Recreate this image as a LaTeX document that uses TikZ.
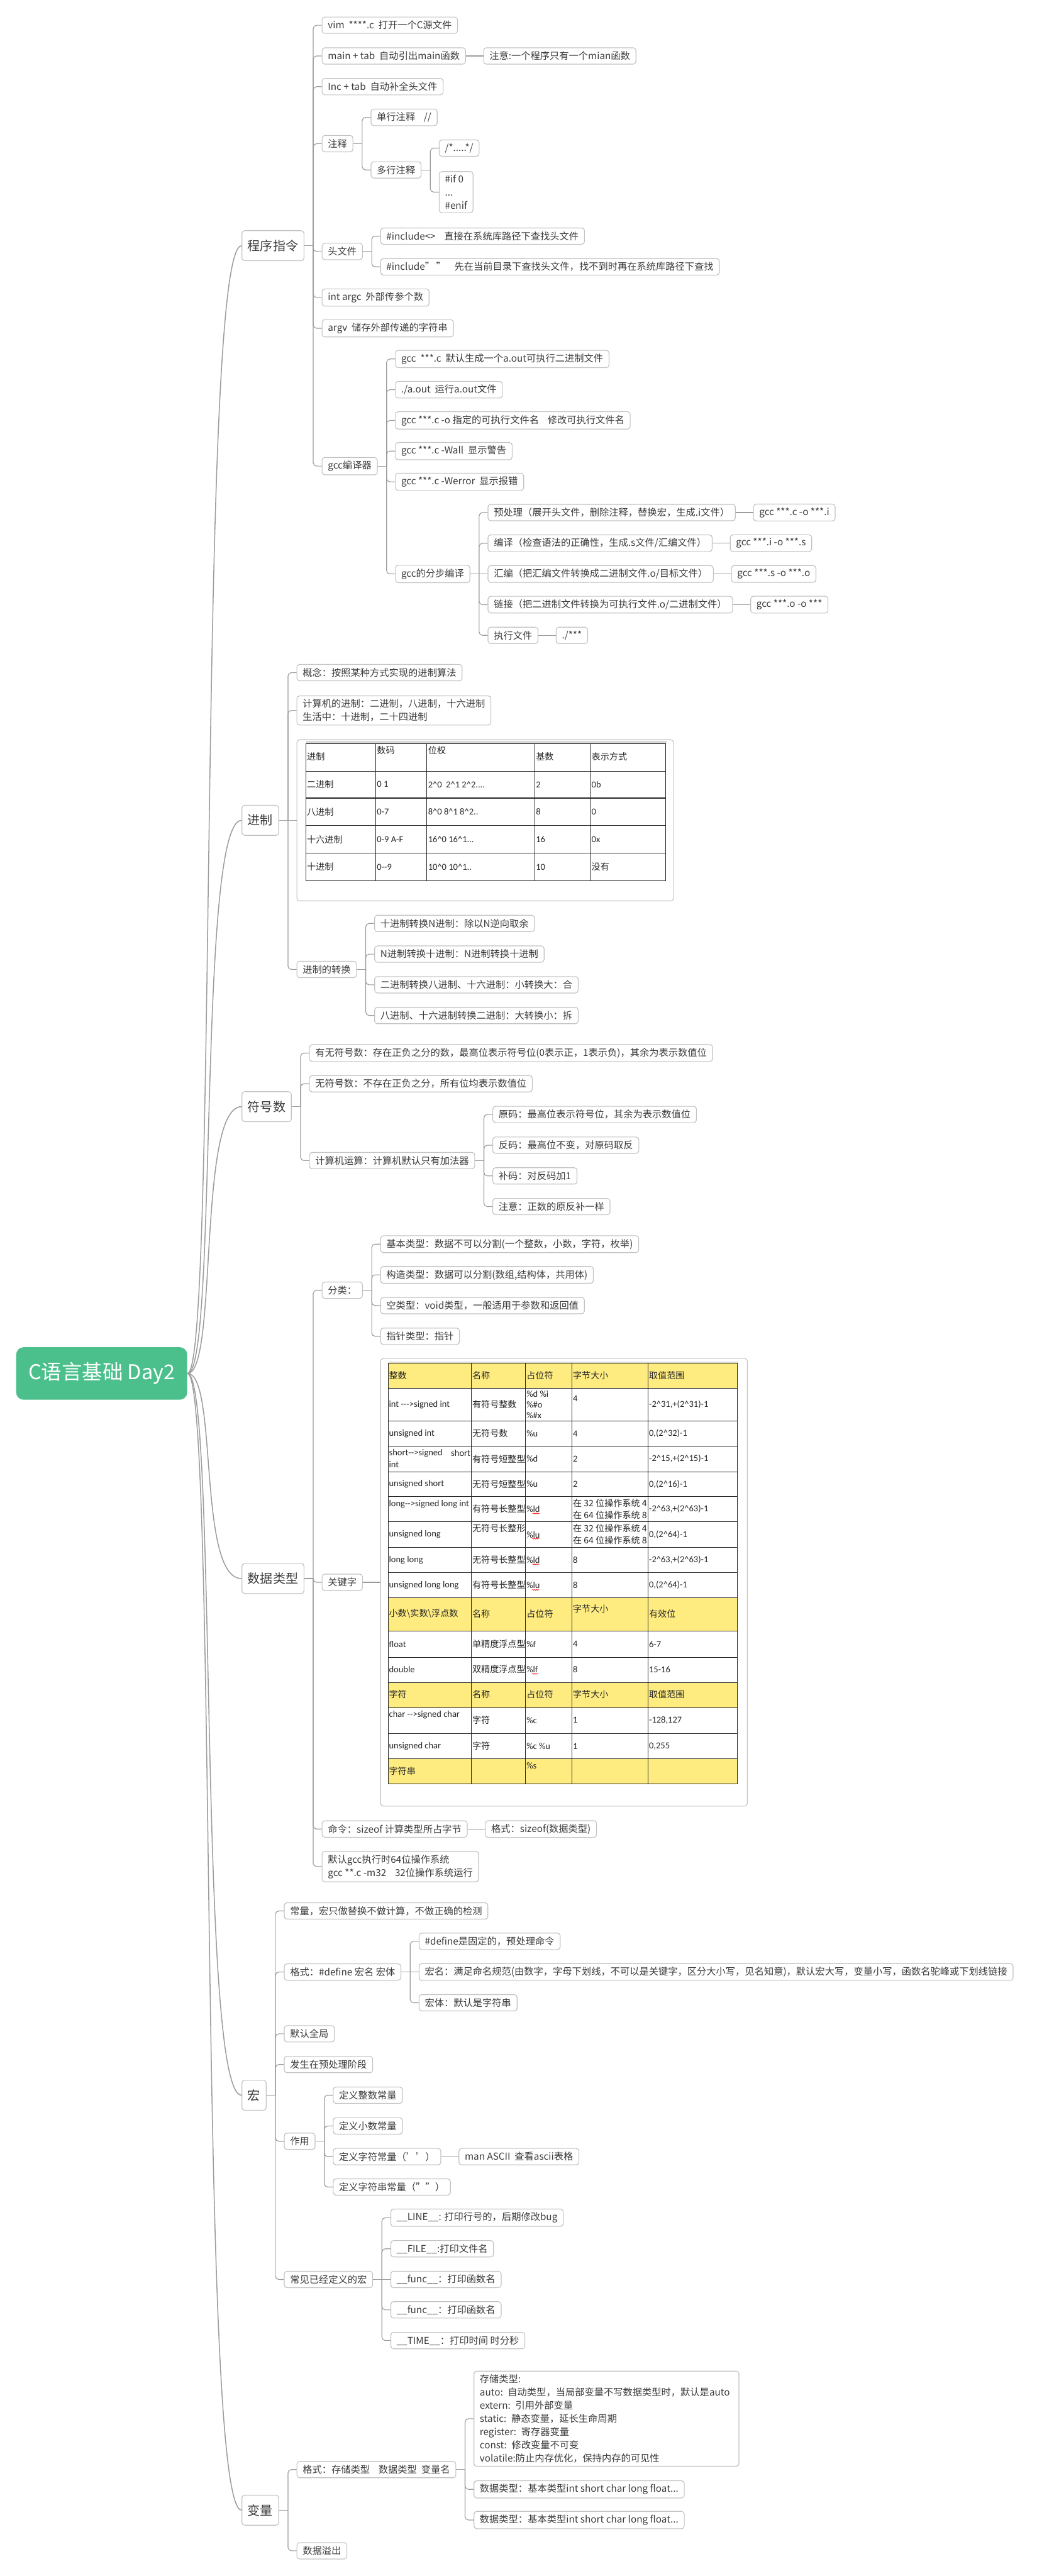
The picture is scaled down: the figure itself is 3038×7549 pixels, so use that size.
\documentclass[tikz,border=0pt]{standalone}
\usepackage{fontspec}
\setmainfont{Noto Sans CJK SC}
\newfontfamily\lat{Carlito}
\usetikzlibrary{calc,decorations.pathmorphing}
\definecolor{txt}{HTML}{3A3A3A}
\definecolor{bord}{HTML}{C2C2C2}
\definecolor{lnk}{HTML}{9C9C9C}
\definecolor{rootg}{HTML}{4CC08C}
\definecolor{ylw}{HTML}{FFEC80}
\newcommand\hy{\mbox{-}}
\newcommand\ca{\textasciicircum}
\newcommand\gap{\hspace{0.45em}}
\tikzset{
 box/.style={draw=bord, line width=0.6pt, rounded corners=0.08cm, fill=white, text=txt,
   font=\fontsize{8pt}{11pt}\selectfont, inner xsep=0.17cm, inner ysep=0.1cm, minimum height=0.48cm, align=left},
 mainbox/.style={box, font=\fontsize{10.5pt}{13pt}\selectfont, minimum height=0.88cm},
 rootbox/.style={fill=rootg, rounded corners=0.22cm, text=white, font=\fontsize{17pt}{20pt}\selectfont,
   minimum width=5.01cm, minimum height=1.54cm},
 conn/.style={draw=lnk, line width=0.6pt},
 rconn/.style={draw=lnk, line width=0.8pt},
 tline/.style={draw=black!85, line width=0.55pt},
 tc/.style={anchor=west, inner sep=0pt, text=black!85, font=\fontsize{7.4pt}{9pt}\selectfont},
 tcl/.style={tc, font=\fontsize{7.6pt}{9pt}\selectfont\lat},
 wavy/.style={red, line width=0.35pt, decorate, decoration={snake, amplitude=0.35pt, segment length=1.4pt}},
}
% child node placed 51px right of parent's east side, at absolute y (px)
\newcommand\kid[5][]{\path let \p1=(#3.east) in node[box,anchor=west,#1] (#2) at (\x1+0.51cm,-#4*0.01cm) {#5};}
% trunk connector with rounded corner
\newcommand\joinkid[2]{\draw[conn] (#1.east) -- ($(#1.east)+(26,0)$);
  \draw[conn, rounded corners=0.1cm] ($(#1.east)+(26,0)$) |- (#2.west);}
\newcommand\straight[2]{\draw[conn] (#1.east) -- (#2.west);}
\newcommand\rootlink[1]{\draw[rconn] (root.east) .. controls +(90,0) and +(-130,0) .. (#1.west);}

\begin{document}
\begin{tikzpicture}[x=0.01cm,y=-0.01cm]
\useasboundingbox (0,0) rectangle (3038,7549);
\fill[white] (0,0) rectangle (3038,7549);

% root and main topics
\node[rootbox] (root) at (298,4025) {C语言基础 Day2};
\node[mainbox, anchor=west] (m1) at (708,720) {程序指令};
\node[mainbox, anchor=west] (m2) at (708,2404) {进制};
\node[mainbox, anchor=west] (m3) at (708,3243) {符号数};
\node[mainbox, anchor=west] (m4) at (708,4626) {数据类型};
\node[mainbox, anchor=west] (m5) at (708,6140) {宏};
\node[mainbox, anchor=west] (m6) at (708,7356) {变量};
\rootlink{m1}\rootlink{m2}\rootlink{m3}\rootlink{m4}\rootlink{m5}\rootlink{m6}

% ---------------- 程序指令
\kid{a1}{m1}{74}{vim\gap ****.c\gap 打开一个C源文件}
\kid{a2}{m1}{164}{main + tab\gap 自动引出main函数}
\kid{a2n}{a2}{164}{注意:一个程序只有一个mian函数}
\kid{a3}{m1}{254}{Inc + tab\gap 自动补全头文件}
\kid{a4}{m1}{421}{注释}
\kid{a41}{a4}{344}{单行注释\gap\gap //}
\kid{a42}{a4}{498}{多行注释}
\kid{a421}{a42}{434}{/*.....*/}
\kid{a422}{a42}{563}{\#if 0\\...\\\#enif}
\kid{a5}{m1}{737}{头文件}
\kid{a51}{a5}{692}{\#include<>\gap\gap 直接在系统库路径下查找头文件}
\kid{a52}{a5}{782}{\#include"\,"\gap\gap 先在当前目录下查找头文件，找不到时再在系统库路径下查找}
\kid{a6}{m1}{872}{int argc\gap 外部传参个数}
\kid{a7}{m1}{962}{argv\gap 储存外部传递的字符串}
\kid{a8}{m1}{1366}{gcc编译器}
\kid{a81}{a8}{1052}{gcc\gap ***.c\gap 默认生成一个a.out可执行二进制文件}
\kid{a82}{a8}{1142}{./a.out\gap 运行a.out文件}
\kid{a83}{a8}{1232}{gcc ***.c -o 指定的可执行文件名\gap\gap 修改可执行文件名}
\kid{a84}{a8}{1322}{gcc ***.c -Wall\gap 显示警告}
\kid{a85}{a8}{1412}{gcc ***.c -Werror\gap 显示报错}
\kid{a86}{a8}{1682}{gcc的分步编译}
\kid{a861}{a86}{1502}{预处理（展开头文件，删除注释，替换宏，生成.i文件）}
\kid{g1}{a861}{1502}{gcc ***.c -o ***.i}
\kid{a862}{a86}{1592}{编译（检查语法的正确性，生成.s文件/汇编文件）}
\kid{g2}{a862}{1592}{gcc ***.i -o ***.s}
\kid{a863}{a86}{1682}{汇编（把汇编文件转换成二进制文件.o/目标文件）}
\kid{g3}{a863}{1682}{gcc ***.s -o ***.o}
\kid{a864}{a86}{1772}{链接（把二进制文件转换为可执行文件.o/二进制文件）}
\kid{g4}{a864}{1772}{gcc ***.o -o ***}
\kid{a865}{a86}{1862}{执行文件}
\kid{g5}{a865}{1862}{./***}
\foreach \c in {a1,a2,a3,a4,a5,a6,a7,a8} {\joinkid{m1}{\c}}
\straight{a2}{a2n}
\joinkid{a4}{a41}\joinkid{a4}{a42}
\joinkid{a42}{a421}\joinkid{a42}{a422}
\joinkid{a5}{a51}\joinkid{a5}{a52}
\foreach \c in {a81,a82,a83,a84,a85,a86} {\joinkid{a8}{\c}}
\joinkid{a86}{a861}\joinkid{a86}{a862}\straight{a86}{a863}\joinkid{a86}{a864}\joinkid{a86}{a865}
\straight{a861}{g1}\straight{a862}{g2}\straight{a863}{g3}\straight{a864}{g4}\straight{a865}{g5}

% ---------------- 进制
\kid{b1}{m2}{1971}{概念：按照某种方式实现的进制算法}
\kid{b2}{m2}{2082}{计算机的进制：二进制，八进制，十六进制\\生活中：十进制，二十四进制}
\kid[minimum width=11.03cm, minimum height=4.72cm]{b3}{m2}{2404}{}
\kid{b4}{m2}{2841}{进制的转换}
\kid{b41}{b4}{2706}{十进制转换N进制：除以N逆向取余}
\kid{b42}{b4}{2796}{N进制转换十进制：N进制转换十进制}
\kid{b43}{b4}{2886}{二进制转换八进制、十六进制：小转换大：合}
\kid{b44}{b4}{2976}{八进制、十六进制转换二进制：大转换小：拆}
\joinkid{m2}{b1}\joinkid{m2}{b2}\straight{m2}{b3}\joinkid{m2}{b4}
\foreach \c in {b41,b42,b43,b44} {\joinkid{b4}{\c}}

\begin{scope}[shift={(b3.north west)}]
 \fill[gray!30] (29,5) rectangle (1084,12);
 \draw[tline] (27,12) rectangle (1082,415);
 \foreach \yy in {93,172,253,334} \draw[tline] (27,\yy) -- (1082,\yy);
 \foreach \xx in {232,382,698,861} \draw[tline] (\xx,12) -- (\xx,415);
 \node[tc] (p00) at (30,51) {进制};
 \node[tc] (p01) at (235,33) {数码};
 \node[tc] (p02) at (385,33) {位权};
 \node[tc] (p03) at (701,51) {基数};
 \node[tc] (p04) at (864,51) {表示方式};
 \node[tc] (p10) at (30,132) {二进制};
 \node[tcl] (p11) at (235,132) {0 1};
 \node[tcl] (p12) at (385,132) {2\ca0\gap 2\ca1 2\ca2....};
 \node[tcl] (p13) at (701,132) {2};
 \node[tcl] (p14) at (864,132) {0b};
 \node[tc] (p20) at (30,212) {八进制};
 \node[tcl] (p21) at (235,212) {0\hy7};
 \node[tcl] (p22) at (385,212) {8\ca0 8\ca1 8\ca2..};
 \node[tcl] (p23) at (701,212) {8};
 \node[tcl] (p24) at (864,212) {0};
 \node[tc] (p30) at (30,293) {十六进制};
 \node[tcl] (p31) at (235,293) {0\hy9 A\hy F};
 \node[tcl] (p32) at (385,293) {16\ca0 16\ca1...};
 \node[tcl] (p33) at (701,293) {16};
 \node[tcl] (p34) at (864,293) {0x};
 \node[tc] (p40) at (30,374) {十进制};
 \node[tcl] (p41) at (235,374) {0\hy\hy9};
 \node[tcl] (p42) at (385,374) {10\ca0 10\ca1..};
 \node[tcl] (p43) at (701,374) {10};
 \node[tc] (p44) at (864,374) {没有};
\end{scope}

% ---------------- 符号数
\kid{c1}{m3}{3086}{有无符号数：存在正负之分的数，最高位表示符号位(0表示正，1表示负)，其余为表示数值位}
\kid{c2}{m3}{3176}{无符号数：不存在正负之分，所有位均表示数值位}
\kid{c3}{m3}{3401}{计算机运算：计算机默认只有加法器}
\kid{c31}{c3}{3266}{原码：最高位表示符号位，其余为表示数值位}
\kid{c32}{c3}{3356}{反码：最高位不变，对原码取反}
\kid{c33}{c3}{3446}{补码：对反码加1}
\kid{c34}{c3}{3536}{注意：正数的原反补一样}
\joinkid{m3}{c1}\joinkid{m3}{c2}\joinkid{m3}{c3}
\foreach \c in {c31,c32,c33,c34} {\joinkid{c3}{\c}}

% ---------------- 数据类型
\kid{d1}{m4}{3781}{分类：}
\kid{d11}{d1}{3646}{基本类型：数据不可以分割(一个整数，小数，字符，枚举)}
\kid{d12}{d1}{3736}{构造类型：数据可以分割(数组,结构体，共用体)}
\kid{d13}{d1}{3826}{空类型：void类型，一般适用于参数和返回值}
\kid{d14}{d1}{3916}{指针类型：指针}
\kid{d2}{m4}{4637}{关键字}
\kid[minimum width=10.74cm, minimum height=13.11cm]{d2t}{d2}{4637}{}
\kid{d3}{m4}{5360}{命令：sizeof 计算类型所占字节}
\kid{d3n}{d3}{5360}{格式：sizeof(数据类型)}
\kid{d4}{m4}{5470}{默认gcc执行时64位操作系统\\gcc **.c -m32\gap\gap 32位操作系统运行}
\joinkid{m4}{d1}\joinkid{m4}{d2}\joinkid{m4}{d3}\joinkid{m4}{d4}
\foreach \c in {d11,d12,d13,d14} {\joinkid{d1}{\c}}
\straight{d2}{d2t}\straight{d3}{d3n}

\begin{scope}[shift={(d2t.north west)}]
 \fill[gray!30] (25,10) rectangle (1048,15);
 \fill[ylw] (23,15) rectangle (1046,89);
 \fill[ylw] (23,702) rectangle (1046,800);
 \fill[ylw] (23,950) rectangle (1046,1025);
 \fill[ylw] (23,1173) rectangle (1046,1248);
 \draw[tline] (23,15) rectangle (1046,1248);
 \foreach \yy in {89,184,258,333,405,479,554,628,702,800,877,950,1025,1100,1173} \draw[tline] (23,\yy) -- (1046,\yy);
 \foreach \xx in {267,426,562,785} \draw[tline] (\xx,15) -- (\xx,1248);
 % R0
 \node[tc] (q00) at (25,50) {整数};
 \node[tc] (q01) at (269,50) {名称};
 \node[tc] (q02) at (428,50) {占位符};
 \node[tc] (q03) at (564,50) {字节大小};
 \node[tc] (q04) at (787,50) {取值范围};
 % R1
 \node[tcl] (q10) at (25,136) {int \hy\hy\hy>signed int};
 \node[tc] (q11) at (269,136) {有符号整数};
 \node[tcl] (q12a) at (428,105) {\%d \%i};
 \node[tcl] (q12b) at (428,136) {\%\#o};
 \node[tcl] (q12c) at (428,168) {\%\#x};
 \node[tcl] (q13) at (564,119) {4};
 \node[tcl] (q14) at (787,136) {\hy2\ca31,+(2\ca31)\hy1};
 % R2
 \node[tcl] (q20) at (25,221) {unsigned int};
 \node[tc] (q21) at (269,221) {无符号数};
 \node[tcl] (q22) at (428,221) {\%u};
 \node[tcl] (q23) at (564,221) {4};
 \node[tcl] (q24) at (787,221) {0,(2\ca32)\hy1};
 % R3
 \node[tcl] (q30a) at (25,279) {short\hy\hy>signed};
 \node[tcl, anchor=east] (q30b) at (265,279) {short};
 \node[tcl] (q30c) at (25,311) {int};
 \node[tc] (q31) at (269,295) {有符号短整型};
 \node[tcl] (q32) at (428,295) {\%d};
 \node[tcl] (q33) at (564,295) {2};
 \node[tcl] (q34) at (787,295) {\hy2\ca15,+(2\ca15)\hy1};
 % R4
 \node[tcl] (q40) at (25,369) {unsigned short};
 \node[tc] (q41) at (269,369) {无符号短整型};
 \node[tcl] (q42) at (428,369) {\%u};
 \node[tcl] (q43) at (564,369) {2};
 \node[tcl] (q44) at (787,369) {0,(2\ca16)\hy1};
 % R5
 \node[tcl] (q50) at (25,427) {long\hy\hy>signed long int};
 \node[tc] (q51) at (269,442) {有符号长整型};
 \node[tcl] (q52) at (428,442) {\%ld};
 \node[tc] (q53a) at (564,424) {在 32 位操作系统 4};
 \node[tc] (q53b) at (564,459) {在 64 位操作系统 8};
 \node[tcl] (q54) at (787,442) {\hy2\ca63,+(2\ca63)\hy1};
 % R6
 \node[tcl] (q60) at (25,517) {unsigned long};
 \node[tc] (q61) at (269,499) {无符号长整形};
 \node[tcl] (q62) at (428,517) {\%lu};
 \node[tc] (q63a) at (564,499) {在 32 位操作系统 4};
 \node[tc] (q63b) at (564,533) {在 64 位操作系统 8};
 \node[tcl] (q64) at (787,517) {0,(2\ca64)\hy1};
 % R7
 \node[tcl] (q70) at (25,591) {long long};
 \node[tc] (q71) at (269,591) {无符号长整型};
 \node[tcl] (q72) at (428,591) {\%ld};
 \node[tcl] (q73) at (564,591) {8};
 \node[tcl] (q74) at (787,591) {\hy2\ca63,+(2\ca63)\hy1};
 % R8
 \node[tcl] (q80) at (25,665) {unsigned long long};
 \node[tc] (q81) at (269,665) {有符号长整型};
 \node[tcl] (q82) at (428,665) {\%lu};
 \node[tcl] (q83) at (564,665) {8};
 \node[tcl] (q84) at (787,665) {0,(2\ca64)\hy1};
 % R9
 \node[tc] (q90) at (25,749) {小数\textbackslash 实数\textbackslash 浮点数};
 \node[tc] (q91) at (269,749) {名称};
 \node[tc] (q92) at (428,749) {占位符};
 \node[tc] (q93) at (564,734) {字节大小};
 \node[tc] (q94) at (787,749) {有效位};
 % R10
 \node[tcl] (qa0) at (25,838) {float};
 \node[tc] (qa1) at (269,838) {单精度浮点型};
 \node[tcl] (qa2) at (428,838) {\%f};
 \node[tcl] (qa3) at (564,838) {4};
 \node[tcl] (qa4) at (787,838) {6\hy7};
 % R11
 \node[tcl] (qb0) at (25,912) {double};
 \node[tc] (qb1) at (269,912) {双精度浮点型};
 \node[tcl] (qb2) at (428,912) {\%lf};
 \node[tcl] (qb3) at (564,912) {8};
 \node[tcl] (qb4) at (787,912) {15\hy16};
 % R12
 \node[tc] (qc0) at (25,985) {字符};
 \node[tc] (qc1) at (269,985) {名称};
 \node[tc] (qc2) at (428,985) {占位符};
 \node[tc] (qc3) at (564,985) {字节大小};
 \node[tc] (qc4) at (787,985) {取值范围};
 % R13
 \node[tcl] (qd0) at (25,1046) {char \hy\hy>signed char};
 \node[tc] (qd1) at (269,1061) {字符};
 \node[tcl] (qd2) at (428,1061) {\%c};
 \node[tcl] (qd3) at (564,1061) {1};
 \node[tcl] (qd4) at (787,1061) {\hy128,127};
 % R14
 \node[tcl] (qe0) at (25,1137) {unsigned char};
 \node[tc] (qe1) at (269,1137) {字符};
 \node[tcl] (qe2) at (428,1137) {\%c \%u};
 \node[tcl] (qe3) at (564,1137) {1};
 \node[tcl] (qe4) at (787,1137) {0,255};
 % R15
 \node[tc] (qf0) at (25,1210) {字符串};
 \node[tcl] (qf2) at (428,1195) {\%s};
 % spell-check squiggles
 \draw[wavy] (446,455) -- (466,455);
 \draw[wavy] (446,529) -- (466,529);
 \draw[wavy] (446,604) -- (466,604);
 \draw[wavy] (446,679) -- (466,679);
 \draw[wavy] (445,925) -- (462,925);
\end{scope}

% ---------------- 宏
\kid{e1}{m5}{5600}{常量，宏只做替换不做计算，不做正确的检测}
\kid{e2}{m5}{5779}{格式：\#define 宏名 宏体}
\kid{e21}{e2}{5689}{\#define是固定的，预处理命令}
\kid{e22}{e2}{5779}{宏名：满足命名规范(由数字，字母下划线，不可以是关键字，区分大小写，见名知意)，默认宏大写，变量小写，函数名驼峰或下划线链接}
\kid{e23}{e2}{5869}{宏体：默认是字符串}
\kid{e3}{m5}{5960}{默认全局}
\kid{e4}{m5}{6050}{发生在预处理阶段}
\kid{e5}{m5}{6275}{作用}
\kid{e51}{e5}{6140}{定义整数常量}
\kid{e52}{e5}{6230}{定义小数常量}
\kid{e53}{e5}{6320}{定义字符常量（\mbox{'}\mbox{'}）}
\kid{e53n}{e53}{6320}{man ASCII\gap 查看ascii表格}
\kid{e54}{e5}{6409}{定义字符串常量（""）}
\kid{e6}{m5}{6680}{常见已经定义的宏}
\kid{e61}{e6}{6499}{\_\_LINE\_\_: 打印行号的，后期修改bug}
\kid{e62}{e6}{6590}{\_\_FILE\_\_:打印文件名}
\kid{e63}{e6}{6680}{\_\_func\_\_：打印函数名}
\kid{e64}{e6}{6769}{\_\_func\_\_：打印函数名}
\kid{e65}{e6}{6859}{\_\_TIME\_\_：打印时间 时分秒}
\foreach \c in {e1,e2,e3,e4,e5,e6} {\joinkid{m5}{\c}}
\joinkid{e2}{e21}\straight{e2}{e22}\joinkid{e2}{e23}
\foreach \c in {e51,e52,e53,e54} {\joinkid{e5}{\c}}
\straight{e53}{e53n}
\joinkid{e6}{e61}\joinkid{e6}{e62}\straight{e6}{e63}\joinkid{e6}{e64}\joinkid{e6}{e65}

% ---------------- 变量
\kid{f1}{m6}{7237}{格式：存储类型\gap\gap 数据类型\gap 变量名}
\kid[text width=7.42cm]{f11}{f1}{7088}{存储类型:\\auto: 自动类型，当局部变量不写数据类型时，默认是auto\\extern: 引用外部变量\\static: 静态变量，延长生命周期\\register: 寄存器变量\\const: 修改变量不可变\\volatile:防止内存优化，保持内存的可见性}
\kid{f12}{f1}{7295}{数据类型：基本类型int short char long float...}
\kid{f13}{f1}{7385}{数据类型：基本类型int short char long float...}
\kid{f2}{m6}{7475}{数据溢出}
\joinkid{m6}{f1}\joinkid{m6}{f2}
\joinkid{f1}{f11}\joinkid{f1}{f12}\joinkid{f1}{f13}
\end{tikzpicture}
\end{document}
